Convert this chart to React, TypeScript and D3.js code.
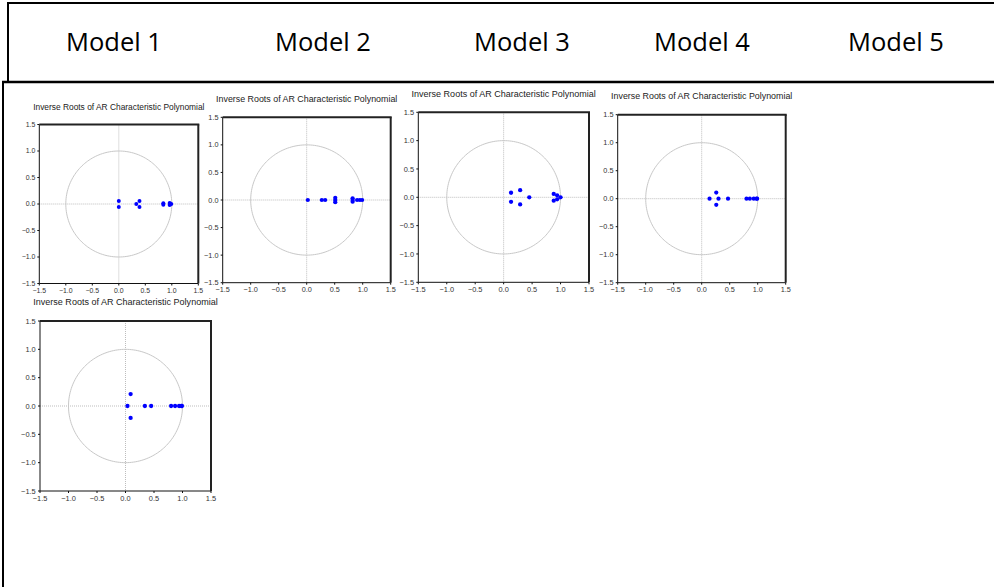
import React from "react";
import * as d3 from "d3";

// ---------- data ----------
const modelNames = ["Model 1", "Model 2", "Model 3", "Model 4", "Model 5"];
const chartTitle = "Inverse Roots of AR Characteristic Polynomial";
const axisTicks = [-1.5, -1.0, -0.5, 0.0, 0.5, 1.0, 1.5];

// inverse roots as [real, imaginary]
const model1Roots: [number, number][] = [
  [0.0, 0.057], [0.0, -0.057], [0.33, 0.0], [0.39, 0.055], [0.39, -0.055],
  [0.84, 0.012], [0.84, -0.012], [0.96, 0.02], [0.96, -0.02], [0.99, 0.0],
];
const model2Roots: [number, number][] = [
  [0.02, 0.0], [0.27, 0.0], [0.33, 0.0], [0.51, 0.04], [0.51, 0.0], [0.51, -0.04],
  [0.82, 0.03], [0.82, 0.0], [0.82, -0.03], [0.9, 0.0], [0.95, 0.0], [0.99, 0.0],
];
const model3Roots: [number, number][] = [
  [0.13, 0.08], [0.13, -0.08], [0.29, 0.125], [0.29, -0.125], [0.45, 0.0],
  [0.88, 0.06], [0.88, -0.06], [0.94, 0.035], [0.94, -0.035], [1.0, 0.0],
];
const model4Roots: [number, number][] = [
  [0.14, 0.0], [0.26, 0.11], [0.26, -0.11], [0.3, 0.0], [0.47, 0.0],
  [0.8, 0.0], [0.86, 0.0], [0.93, 0.0], [0.98, 0.0], [0.99, 0.0],
];
const model5Roots: [number, number][] = [
  [0.035, 0.0], [0.09, 0.21], [0.09, -0.21], [0.34, 0.0], [0.45, 0.0],
  [0.8, 0.0], [0.87, 0.0], [0.94, 0.0], [0.98, 0.0], [0.99, 0.0],
];
const allRoots = [model1Roots, model2Roots, model3Roots, model4Roots, model5Roots];

// ---------- layout ----------
const W = 994;
const H = 587;
const headerCenters = [114, 323, 522, 702, 896];
const panelFrames = [
  { x: 39.3, y: 124.5, w: 159, h: 159 },
  { x: 222.7, y: 117.3, w: 168, h: 165.4 },
  { x: 418.3, y: 112.3, w: 170.7, h: 170 },
  { x: 617.7, y: 114.7, w: 168, h: 168 },
  { x: 40, y: 321, w: 171, h: 170 },
];

const fmt = d3.format(".1f");

function Panel({ frame, roots }: { frame: any; roots: [number, number][] }) {
  const s = frame.w / 159;
  const x = d3.scaleLinear().domain([-1.5, 1.5]).range([frame.x, frame.x + frame.w]);
  const y = d3.scaleLinear().domain([-1.5, 1.5]).range([frame.y + frame.h, frame.y]);
  const circle = d3.range(0, 361, 2).map((a) => [Math.cos((a * Math.PI) / 180), Math.sin((a * Math.PI) / 180)]);
  const circlePath = d3.line().x((d: any) => x(d[0])).y((d: any) => y(d[1]))(circle as any) || "";
  const tickFont = 6.9 * s;
  const font = "'Liberation Sans', Arial, sans-serif";
  return (
    <g>
      <text
        x={frame.x + frame.w / 2}
        y={frame.y - 17.5 * s + 3}
        textAnchor="middle"
        fontFamily={font}
        fontSize={8.4 * s}
        fill="#222"
      >
        {chartTitle}
      </text>
      {/* zero lines */}
      <line x1={x(0)} x2={x(0)} y1={frame.y} y2={frame.y + frame.h} stroke="#bdbdbd" strokeWidth={1} strokeDasharray="1,1" />
      <line x1={frame.x} x2={frame.x + frame.w} y1={y(0)} y2={y(0)} stroke="#bdbdbd" strokeWidth={1} strokeDasharray="1,1" />
      {/* unit circle */}
      <path d={circlePath} fill="none" stroke="#c8c8c8" strokeWidth={1} />
      {/* frame */}
      <line x1={frame.x} x2={frame.x} y1={frame.y} y2={frame.y + frame.h} stroke="#111" strokeWidth={1} />
      <line x1={frame.x} x2={frame.x + frame.w} y1={frame.y + frame.h} y2={frame.y + frame.h} stroke="#111" strokeWidth={1} />
      <line x1={frame.x} x2={frame.x + frame.w + 1} y1={frame.y} y2={frame.y} stroke="#222" strokeWidth={2} />
      <line x1={frame.x + frame.w} x2={frame.x + frame.w} y1={frame.y} y2={frame.y + frame.h} stroke="#222" strokeWidth={2} />
      {/* ticks + labels */}
      {axisTicks.map((t) => (
        <g key={"y" + t}>
          <line x1={frame.x - 2} x2={frame.x} y1={y(t)} y2={y(t)} stroke="#111" strokeWidth={1} />
          <text x={frame.x - 4 * s} y={y(t) + tickFont * 0.35} textAnchor="end" fontFamily={font} fontSize={tickFont} fill="#333">
            {fmt(t)}
          </text>
        </g>
      ))}
      {axisTicks.map((t) => (
        <g key={"x" + t}>
          <line x1={x(t)} x2={x(t)} y1={frame.y + frame.h} y2={frame.y + frame.h + 2} stroke="#111" strokeWidth={1} />
          <text x={x(t)} y={frame.y + frame.h + 9 * s} textAnchor="middle" fontFamily={font} fontSize={tickFont} fill="#333">
            {fmt(t)}
          </text>
        </g>
      ))}
      {/* roots */}
      {roots.map((r, i) => (
        <circle key={i} cx={x(r[0])} cy={y(r[1])} r={2 * s} fill="#0000ff" />
      ))}
    </g>
  );
}

export default function App() {
  return (
    <svg
      width={W}
      height={H}
      viewBox={`0 0 ${W} ${H}`}
      style={{ position: "absolute", left: 0, top: 0, background: "#fff" }}
    >
      <rect x={0} y={0} width={W} height={H} fill="#fff" />
      {/* table borders */}
      <line x1={7} x2={W} y1={3} y2={3} stroke="#000" strokeWidth={2} />
      <line x1={8} x2={8} y1={2} y2={82} stroke="#000" strokeWidth={2} />
      <line x1={2} x2={W} y1={82} y2={82} stroke="#000" strokeWidth={2.5} />
      <line x1={3} x2={3} y1={81} y2={H} stroke="#000" strokeWidth={2} />
      {modelNames.map((m, i) => (
        <text key={m} x={headerCenters[i]} y={51} textAnchor="middle" fontFamily="'Open Sans', 'Noto Sans', sans-serif" fontSize={25.5} fill="#000">
          {m}
        </text>
      ))}
      {panelFrames.map((f, i) => (
        <Panel key={i} frame={f} roots={allRoots[i]} />
      ))}
    </svg>
  );
}
